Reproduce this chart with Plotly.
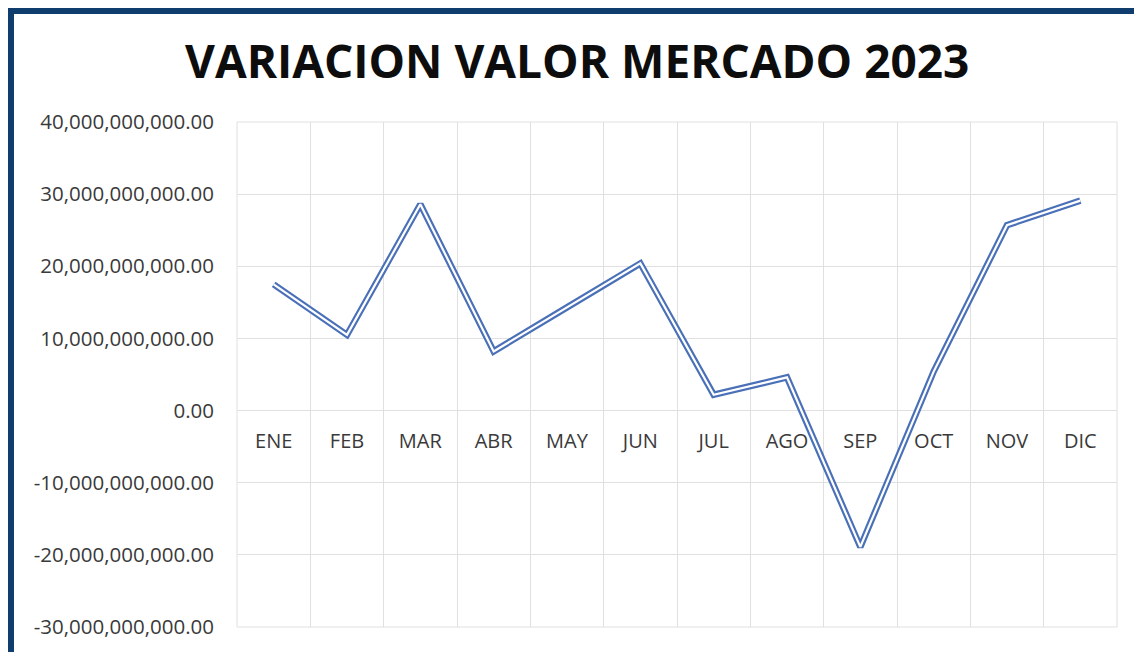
import plotly.graph_objects as go

# ---- data ----
months = ["ENE", "FEB", "MAR", "ABR", "MAY", "JUN", "JUL", "AGO", "SEP", "OCT", "NOV", "DIC"]
values = [17.5e9, 10.5e9, 28.6e9, 8.2e9, 14.3e9, 20.4e9, 2.2e9, 4.6e9, -18.9e9, 5.4e9, 25.7e9, 29.1e9]
y_ticks = [-30e9, -20e9, -10e9, 0, 10e9, 20e9, 30e9, 40e9]
y_ticktext = [f"{v:,.2f}" for v in y_ticks]
title_text = "VARIACION VALOR MERCADO 2023"

BLUE = "#4a70b8"
GRID = "#e0e0e0"
BORDER = "#0f3d6d"
TXT = "#3a3a3a"

fig = go.Figure()
# double line: thick blue stroke with a thin white core
fig.add_trace(go.Scatter(x=months, y=values, mode="lines",
                         line=dict(color=BLUE, width=6.5), hoverinfo="skip", showlegend=False))
fig.add_trace(go.Scatter(x=months, y=values, mode="lines",
                         line=dict(color="white", width=2.2), hoverinfo="skip", showlegend=False))

ymin, ymax = y_ticks[0], y_ticks[-1]

fig.update_layout(
    width=1134, height=652, autosize=False,
    margin=dict(l=237, r=17, t=122, b=25),
    paper_bgcolor="white", plot_bgcolor="white",
    title=dict(text=title_text, x=0.509, xanchor="center", y=1 - 62 / 652, yanchor="middle",
               yref="container",
               font=dict(family="Open Sans", size=46, color="#0d0d0d", weight="bold")),
    font=dict(family="Open Sans", size=21, color=TXT),
    xaxis=dict(type="category", tickson="boundaries", showgrid=True, gridcolor=GRID, gridwidth=1,
               ticks="", showline=False, zeroline=False,
               anchor="free", position=(0 - ymin) / (ymax - ymin),
               ticklabelstandoff=16, tickfont=dict(family="Open Sans", size=20, color=TXT),
               range=[-0.5, len(months) - 0.5]),
    yaxis=dict(range=[ymin, ymax], tickvals=y_ticks, ticktext=y_ticktext,
               showgrid=True, gridcolor=GRID, gridwidth=1, zeroline=False, showline=False,
               ticks="", ticklabelstandoff=22,
               tickfont=dict(family="Open Sans", size=20.5, color=TXT)),
    shapes=[
        # plot-area frame (outer gridlines)
        dict(type="rect", xref="paper", yref="paper", x0=0, x1=1, y0=0, y1=1,
             line=dict(color=GRID, width=1), layer="below"),
        # top border
        dict(type="rect", xref="paper", yref="paper", xsizemode="pixel", ysizemode="pixel",
             xanchor=0, yanchor=1, x0=-229, x1=900, y0=108, y1=114,
             fillcolor=BORDER, line=dict(width=0), layer="above"),
        # left border
        dict(type="rect", xref="paper", yref="paper", xsizemode="pixel", ysizemode="pixel",
             xanchor=0, yanchor=1, x0=-229, x1=-223, y0=-540, y1=114,
             fillcolor=BORDER, line=dict(width=0), layer="above"),
    ],
)

fig.write_html("out.html", config={"displayModeBar": False},
               post_script="document.body.style.margin='0';document.body.style.overflow='hidden';")
